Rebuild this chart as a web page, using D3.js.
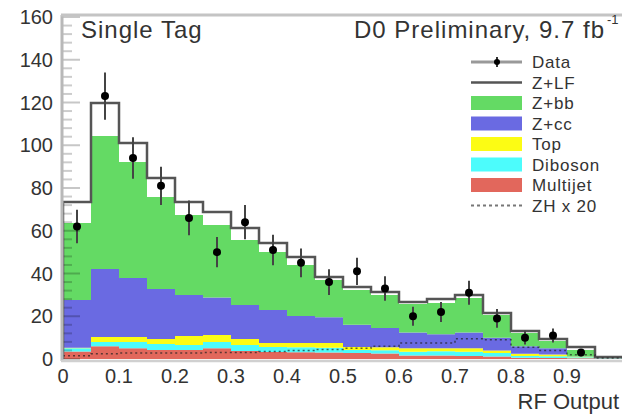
<!DOCTYPE html>
<html>
<head>
<meta charset="utf-8">
<script src="https://cdn.jsdelivr.net/npm/d3@7/dist/d3.min.js"></script>
<style>
  body { margin: 0; background: #fff; }
  text { font-family: 'Liberation Sans', Arial, Helvetica, sans-serif; fill: #333; }
</style>
</head>
<body>
<div id="chart"></div>
<script>
// RF output bins (lower edges), width 0.05
const binLow = [0, 0.05, 0.1, 0.15, 0.2, 0.25, 0.3, 0.35, 0.4, 0.45,
  0.5, 0.55, 0.6, 0.65, 0.7, 0.75, 0.8, 0.85, 0.9, 0.95]
const binWidth = 0.05

// backgrounds, stacked from the bottom
const multijet = [3.5, 6, 5, 4.2, 4.2, 5, 3.7, 3.3, 3.2, 3, 2.8, 2.6, 1.6, 1.6, 1.4, 1.2, 0.6, 0.5, 0.3, 0.1]
const diboson = [1.5, 2, 3, 2.8, 2.3, 3, 2.8, 2.3, 2.3, 2.3, 1.4, 1.5, 1.8, 2, 2, 1.6, 0.8, 0.8, 0.5, 0.1]
const topQuark = [0.3, 2.3, 2.3, 2.4, 4.3, 3.2, 2.9, 1.9, 2, 2.2, 1.4, 1.4, 1.6, 1.4, 1.6, 1.2, 1, 0.8, 0.2, 0]
const zcc = [22.3, 31.8, 27.6, 23.3, 19.1, 17.6, 15.9, 15.4, 12.6, 12, 10.4, 9, 7.4, 6.6, 7.4, 6, 3.6, 2.9, 0.2, 0.1]
const zbb = [36, 62.2, 54.3, 43.1, 37.5, 33.9, 30.4, 27.2, 23.9, 17.5, 16.3, 15.4, 13.3, 14.6, 16.1, 10.6, 6.2, 3.4, 3, 0.2]
const zlf = [9.8, 15.5, 8.8, 8.9, 6, 6.1, 5.6, 4.2, 3.7, 1.4, 1.4, 1.4, 1, 1.9, 1.4, 0.9, 0.9, 1, 1.4, 0.4]

// observed events (last bin empty)
const dataCounts = [62, 123, 94, 81, 66, 50, 64, 51, 45, 36, 41, 33, 20, 22, 31, 19, 10, 11, 3, null]

// signal x 20
const zhTimes20 = [1.5, 2.5, 2.8, 2.8, 2.8, 3, 3, 3.5, 4, 4.5, 5, 6, 7.5, 7.5, 9.5, 9, 5.5, 4, 2, 0.5]

const yTicks = [0, 20, 40, 60, 80, 100, 120, 140, 160]
const xTicks = [0, 0.1, 0.2, 0.3, 0.4, 0.5, 0.6, 0.7, 0.8, 0.9]

const legendLabels = ['Data', 'Z+LF', 'Z+bb', 'Z+cc', 'Top', 'Diboson', 'Multijet', 'ZH x 20']

const keys = ['multijet', 'diboson', 'top', 'zcc', 'zbb', 'zlf']
const colors = {
  multijet: '#e2675c',
  diboson: '#4cfcfc',
  top: '#fcfc14',
  zcc: '#6a6ae2',
  zbb: '#64da64',
  zlf: '#ffffff'
}

const width = 622
const height = 414

const svg = d3
  .select('#chart')
  .append('svg')
  .attr('width', width)
  .attr('height', height)

const xPositionScale = d3.scaleLinear().domain([0, 1]).range([63, 623])
const yPositionScale = d3.scaleLinear().domain([0, 160]).range([359, 17])

const table = binLow.map((d, i) => ({
  multijet: multijet[i],
  diboson: diboson[i],
  top: topQuark[i],
  zcc: zcc[i],
  zbb: zbb[i],
  zlf: zlf[i]
}))

const stacked = d3.stack().keys(keys)(table)

// turn bins into step points, with one extra point at the upper edge
function toSteps(series) {
  const pts = series.map((d, i) => ({ x: binLow[i], y0: d[0], y1: d[1] }))
  const last = series[series.length - 1]
  pts.push({ x: binLow[binLow.length - 1] + binWidth, y0: last[0], y1: last[1] })
  return pts
}

const area = d3
  .area()
  .curve(d3.curveStepAfter)
  .x(d => xPositionScale(d.x))
  .y0(d => yPositionScale(d.y0))
  .y1(d => yPositionScale(d.y1))

const stepLine = d3
  .line()
  .curve(d3.curveStepAfter)
  .x(d => xPositionScale(d.x))
  .y(d => yPositionScale(d.y))

svg
  .selectAll('.layer')
  .data(stacked)
  .enter()
  .append('path')
  .attr('class', 'layer')
  .attr('d', d => area(toSteps(d)))
  .attr('fill', d => colors[d.key])

// total outline (top of Z+LF)
const totalSteps = toSteps(stacked[stacked.length - 1]).map(d => ({ x: d.x, y: d.y1 }))
totalSteps.unshift({ x: 0, y: 0 })
svg
  .append('path')
  .attr('d', stepLine(totalSteps))
  .attr('fill', 'none')
  .attr('stroke', '#555')
  .attr('stroke-width', 2.5)

// ZH x 20 dotted
const zhSteps = zhTimes20.map((d, i) => ({ x: binLow[i], y: d }))
zhSteps.push({ x: 1, y: zhTimes20[zhTimes20.length - 1] })
svg
  .append('path')
  .attr('d', stepLine(zhSteps))
  .attr('fill', 'none')
  .attr('stroke', '#222')
  .attr('stroke-width', 1.5)
  .attr('stroke-dasharray', '2,3')
  .attr('opacity', 0.7)

// data points
const points = dataCounts
  .map((n, i) => ({ x: binLow[i] + binWidth / 2, n: n }))
  .filter(d => d.n !== null)

svg
  .selectAll('.err')
  .data(points)
  .enter()
  .append('line')
  .attr('class', 'err')
  .attr('x1', d => xPositionScale(d.x))
  .attr('x2', d => xPositionScale(d.x))
  .attr('y1', d => yPositionScale(d.n - Math.sqrt(d.n)))
  .attr('y2', d => yPositionScale(d.n + Math.sqrt(d.n)))
  .attr('stroke', '#444')
  .attr('stroke-width', 2)

svg
  .selectAll('.dot')
  .data(points)
  .enter()
  .append('circle')
  .attr('class', 'dot')
  .attr('cx', d => xPositionScale(d.x))
  .attr('cy', d => yPositionScale(d.n))
  .attr('r', 4)
  .attr('fill', '#000')

// y ticks: majors every 20, minors every 4
const minorTicks = d3.range(0, 161, 4).filter(d => d % 20 !== 0)
svg
  .selectAll('.ytick')
  .data(yTicks)
  .enter()
  .append('line')
  .attr('class', 'ytick')
  .attr('x1', 63)
  .attr('x2', 80)
  .attr('y1', d => yPositionScale(d))
  .attr('y2', d => yPositionScale(d))
  .attr('stroke', '#000')
  .attr('stroke-opacity', 0.22)
  .attr('stroke-width', 2)

svg
  .selectAll('.yminor')
  .data(minorTicks)
  .enter()
  .append('line')
  .attr('class', 'yminor')
  .attr('x1', 63)
  .attr('x2', 72)
  .attr('y1', d => yPositionScale(d))
  .attr('y2', d => yPositionScale(d))
  .attr('stroke', '#000')
  .attr('stroke-opacity', 0.2)
  .attr('stroke-width', 2)

// frame
svg.append('line')
  .attr('x1', 62).attr('x2', 62).attr('y1', 15).attr('y2', 361)
  .attr('stroke', '#b8b8b8').attr('stroke-width', 3)
svg.append('line')
  .attr('x1', 61).attr('x2', 623).attr('y1', 15).attr('y2', 15)
  .attr('stroke', '#c4c4c4').attr('stroke-width', 3)
svg.append('line')
  .attr('x1', 61).attr('x2', 623).attr('y1', 361).attr('y2', 361)
  .attr('stroke', '#d0d0d0').attr('stroke-width', 2.5)

// tick labels
svg
  .selectAll('.ylabel')
  .data(yTicks)
  .enter()
  .append('text')
  .attr('class', 'ylabel')
  .attr('x', 53)
  .attr('y', d => yPositionScale(d))
  .attr('dy', '0.36em')
  .attr('text-anchor', 'end')
  .attr('font-size', 20)
  .text(d => d)

svg
  .selectAll('.xlabel')
  .data(xTicks)
  .enter()
  .append('text')
  .attr('class', 'xlabel')
  .attr('x', d => xPositionScale(d))
  .attr('y', 376)
  .attr('dy', '0.36em')
  .attr('text-anchor', 'middle')
  .attr('font-size', 20)
  .text(d => d)

svg.append('text')
  .attr('x', 619)
  .attr('y', 409)
  .attr('text-anchor', 'end')
  .attr('font-size', 22)
  .text('RF Output')

svg.append('text')
  .attr('x', 81)
  .attr('y', 38)
  .attr('font-size', 24)
  .attr('letter-spacing', 1)
  .text('Single Tag')

svg.append('text')
  .attr('x', 605)
  .attr('y', 38)
  .attr('text-anchor', 'end')
  .attr('font-size', 24)
  .attr('letter-spacing', 1)
  .text('D0 Preliminary, 9.7 fb')

svg.append('text')
  .attr('x', 607)
  .attr('y', 24)
  .attr('font-size', 13)
  .text('-1')

// legend
const legend = svg.append('g').attr('transform', 'translate(471,62)')
const rowGap = 20.5

legendLabels.forEach((label, i) => {
  const g = legend.append('g').attr('transform', 'translate(0,' + i * rowGap + ')')
  if (label === 'Data') {
    g.append('line').attr('x1', 0).attr('x2', 51).attr('stroke', '#999').attr('stroke-width', 3)
    g.append('line').attr('x1', 26).attr('x2', 26).attr('y1', -5).attr('y2', 5)
      .attr('stroke', '#333').attr('stroke-width', 2)
    g.append('circle').attr('cx', 26).attr('r', 3).attr('fill', '#000')
  } else if (label === 'Z+LF') {
    g.append('line').attr('x1', 0).attr('x2', 51).attr('stroke', '#555').attr('stroke-width', 2.5)
  } else if (label === 'ZH x 20') {
    g.append('line').attr('x1', 0).attr('x2', 51).attr('stroke', '#777')
      .attr('stroke-width', 2).attr('stroke-dasharray', '3,3')
  } else {
    const key = keys[keys.length - i]
    g.append('rect').attr('x', 0).attr('y', -7).attr('width', 51).attr('height', 14)
      .attr('fill', colors[key])
  }
  g.append('text')
    .attr('x', 61)
    .attr('y', 0)
    .attr('dy', '0.36em')
    .attr('font-size', 17)
    .attr('letter-spacing', 0.8)
    .text(label)
})
</script>
</body>
</html>
